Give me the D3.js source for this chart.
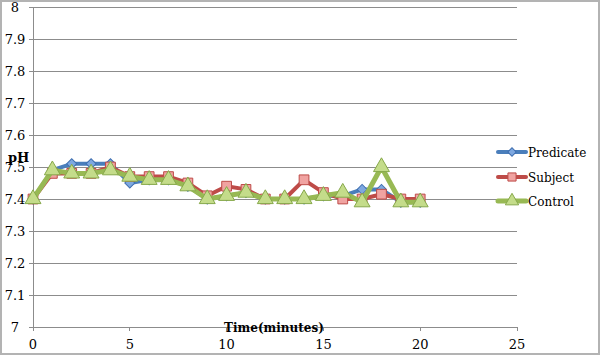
<!DOCTYPE html>
<html><head><meta charset="utf-8">
<script src="https://cdn.jsdelivr.net/npm/d3@7"></script>
<style>body{margin:0;background:#fff}svg{display:block}</style>
</head><body>
<script>
const times = d3.range(0, 21);
const predicate = [7.40,7.49,7.51,7.51,7.51,7.45,7.46,7.46,7.44,7.40,7.41,7.42,7.40,7.40,7.40,7.41,7.41,7.43,7.43,7.39,7.39];
const subject   = [7.40,7.48,7.48,7.48,7.50,7.47,7.47,7.47,7.45,7.41,7.44,7.43,7.40,7.40,7.46,7.42,7.40,7.40,7.415,7.40,7.40];
const control   = [7.40,7.49,7.48,7.48,7.49,7.47,7.46,7.46,7.44,7.40,7.41,7.42,7.40,7.40,7.40,7.41,7.42,7.39,7.50,7.39,7.39];
const xTicks = [0,5,10,15,20,25];
const yTicks = [7,7.1,7.2,7.3,7.4,7.5,7.6,7.7,7.8,7.9,8];
const seriesNames = ["Predicate","Subject","Control"];

const W=600,H=355;
const svg=d3.select("body").append("svg").attr("width",W).attr("height",H);
svg.append("rect").attr("x",1).attr("y",1).attr("width",W-2).attr("height",H-2).attr("fill","#fff").attr("stroke","#b3b3b3").attr("stroke-width",2);

const x=d3.scaleLinear().domain([0,25]).range([33,517]);
const y=d3.scaleLinear().domain([7,8]).range([327,7]);
const font="DejaVu Serif, Liberation Serif, serif";

svg.append("g").selectAll("line").data(yTicks).join("line")
  .attr("x1",29).attr("x2",517).attr("y1",d=>y(d)).attr("y2",d=>y(d))
  .attr("stroke","#8c8c8c").attr("stroke-width",1).attr("shape-rendering","crispEdges");
svg.append("line").attr("x1",x(0)).attr("x2",x(0)).attr("y1",y(8)).attr("y2",y(7)+4)
  .attr("stroke","#8c8c8c").attr("shape-rendering","crispEdges");
svg.append("g").selectAll("line").data(xTicks).join("line")
  .attr("x1",d=>x(d)).attr("x2",d=>x(d)).attr("y1",y(7)).attr("y2",y(7)+4)
  .attr("stroke","#8c8c8c").attr("shape-rendering","crispEdges");

svg.append("g").selectAll("text").data(yTicks).join("text")
  .attr("x",15).attr("y",d=>y(d)+4.5).attr("text-anchor","middle")
  .attr("font-family",font).attr("font-size",13).attr("fill","#000")
  .text(d=>d3.format("")(+d.toFixed(1)));
svg.append("g").selectAll("text").data(xTicks).join("text")
  .attr("x",d=>x(d)).attr("y",349).attr("text-anchor","middle")
  .attr("font-family",font).attr("font-size",13).attr("fill","#000")
  .text(d=>d);

const colors={Predicate:"#4a7ebb",Subject:"#be4b48",Control:"#98b954"};
const fills={Predicate:"#7ea8e0",Subject:"#f0a3a1",Control:"#c4dc8a"};
const strokes={Predicate:"#3f6fb0",Subject:"#be4b48",Control:"#86a84a"};
const data={Predicate:predicate,Subject:subject,Control:control};
const line=d3.line().x((d,i)=>x(times[i])).y(d=>y(d));
const symType={Predicate:d3.symbolSquare,Subject:d3.symbolSquare,Control:d3.symbolTriangle};
const symSize={Predicate:50,Subject:95,Control:110};
const rot={Predicate:45,Subject:0,Control:0};

seriesNames.forEach(n=>{
  const g=svg.append("g");
  g.append("path").datum(data[n]).attr("d",line).attr("fill","none")
   .attr("stroke",colors[n]).attr("stroke-width",n==="Control"?5:4).attr("stroke-linejoin","round");
  g.selectAll("path.m").data(data[n]).join("path").attr("class","m")
   .attr("transform",(d,i)=>`translate(${x(times[i])},${y(d)}) rotate(${rot[n]})`)
   .attr("d",d3.symbol().type(symType[n]).size(symSize[n]))
   .attr("fill",fills[n]).attr("stroke",strokes[n]).attr("stroke-width",1);
});

const ly=[152,177,201];
seriesNames.forEach((n,i)=>{
  const g=svg.append("g");
  g.append("line").attr("x1",498).attr("x2",526).attr("y1",ly[i]).attr("y2",ly[i])
    .attr("stroke",colors[n]).attr("stroke-width",n==="Control"?5:4).attr("stroke-linecap","round");
  g.append("path").attr("transform",`translate(512,${ly[i]}) rotate(${rot[n]})`)
    .attr("d",d3.symbol().type(symType[n]).size(symSize[n]*0.7))
    .attr("fill",fills[n]).attr("stroke",strokes[n]).attr("stroke-width",1);
  g.append("text").attr("x",528).attr("y",ly[i]+4.5).attr("font-family",font).attr("font-size",12)
    .attr("fill","#000").text(n);
});

svg.append("text").attr("x",8).attr("y",162).attr("font-family",font).attr("font-size",13)
  .attr("font-weight","bold").text("pH");
svg.append("text").attr("x",274).attr("y",332).attr("text-anchor","middle").attr("font-family",font)
  .attr("font-size",12).attr("font-weight","bold").text("Time(minutes)");
</script>
</body></html>
